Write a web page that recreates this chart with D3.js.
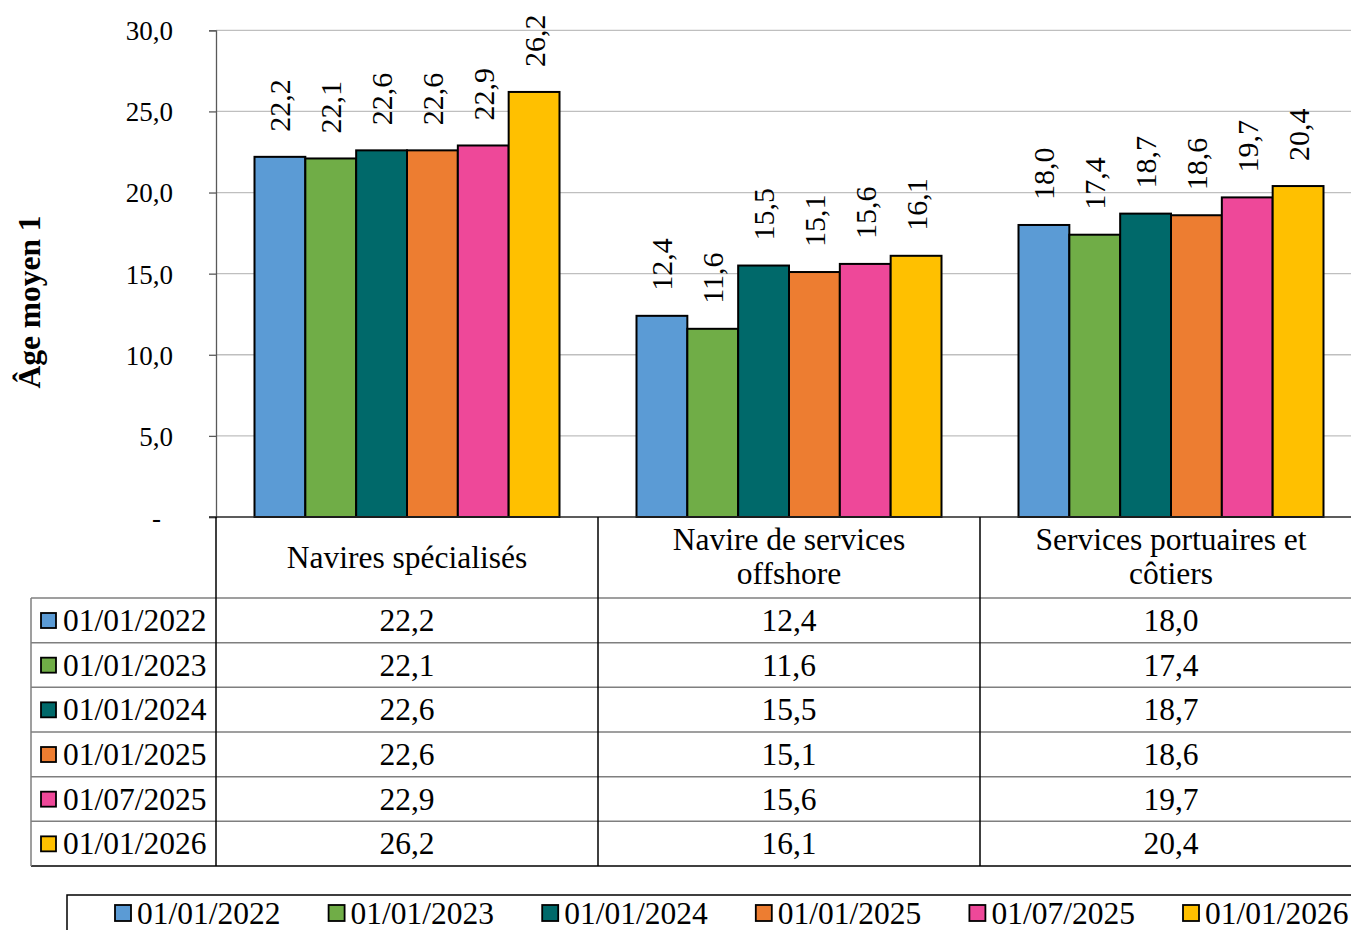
<!DOCTYPE html>
<html>
<head>
<meta charset="utf-8">
<script src="https://cdn.jsdelivr.net/npm/d3@7"></script>
<style>
  body { margin: 0; background: #fff; }
  svg { display: block; font-family: "Liberation Serif", "Times New Roman", serif; }
</style>
</head>
<body>
<svg id="graph1" width="1351" height="930"></svg>
<script>
// data
var categories = ["Navires spécialisés", "Navire de services offshore", "Services portuaires et côtiers"];
var categoryLines = [["Navires spécialisés"], ["Navire de services", "offshore"], ["Services portuaires et", "côtiers"]];
var series = ["01/01/2022", "01/01/2023", "01/01/2024", "01/01/2025", "01/07/2025", "01/01/2026"];
var v2022 = [22.2, 12.4, 18.0];
var v2023 = [22.1, 11.6, 17.4];
var v2024 = [22.6, 15.5, 18.7];
var v2025 = [22.6, 15.1, 18.6];
var v2025b = [22.9, 15.6, 19.7];
var v2026 = [26.2, 16.1, 20.4];
var yTicks = [0, 5, 10, 15, 20, 25, 30];
var colorList = ["#5B9BD5", "#70AD47", "#00696A", "#ED7D31", "#EE4899", "#FFC000"];

var values = [v2022, v2023, v2024, v2025, v2025b, v2026];
var fmt = function(v) { return v.toFixed(1).replace(".", ","); };

var svg = d3.select("#graph1");
var plot = {left: 216, right: 1362, top: 30.3, bottom: 517};

var x0 = d3.scaleBand().domain(categories).range([plot.left, plot.right]);
var bw = x0.bandwidth();
var x1 = d3.scaleBand().domain(series).range([38.5, bw - 38.5]);
var y = d3.scaleLinear().domain([0, 30]).range([plot.bottom, plot.top]);
var color = d3.scaleOrdinal().domain(series).range(colorList);

// gridlines
svg.append("g")
  .selectAll("line")
  .data(yTicks.filter(function(d) { return d > 0; }))
  .enter().append("line")
    .attr("x1", plot.left).attr("x2", plot.right)
    .attr("y1", function(d) { return y(d); })
    .attr("y2", function(d) { return y(d); })
    .attr("stroke", "#BFBFBF")
    .attr("stroke-width", 1.3);

// y axis
var yAxis = svg.append("g")
  .attr("transform", "translate(" + plot.left + ",0)")
  .call(d3.axisLeft(y).tickValues(yTicks).tickSize(7).tickPadding(36)
    .tickFormat(function(d) { return d === 0 ? "-" : fmt(d); }));
yAxis.select(".domain").attr("stroke", "#595959").attr("stroke-width", 1.3);
yAxis.selectAll(".tick line").attr("stroke", "#595959").attr("stroke-width", 1.3);
yAxis.selectAll(".tick text")
  .attr("fill", "#000")
  .style("font-size", "27px")
  .style("font-family", "Liberation Serif")
  .attr("dy", "0.35em");
yAxis.selectAll(".tick").filter(function(d) { return d === 0; }).select("text").attr("dx", -12);

// y title
svg.append("text")
  .attr("transform", "translate(40," + 302 + ") rotate(-90)")
  .attr("text-anchor", "middle")
  .style("font-size", "31.5px")
  .style("font-weight", "bold")
  .text("Âge moyen 1");

// bars
var groups = svg.append("g")
  .selectAll("g")
  .data(series)
  .enter().append("g");

groups.selectAll("rect")
  .data(function(s, i) { return categories.map(function(c, j) { return {s: s, c: c, v: values[i][j]}; }); })
  .enter().append("rect")
    .attr("x", function(d) { return x0(d.c) + x1(d.s); })
    .attr("y", function(d) { return y(d.v); })
    .attr("width", x1.bandwidth())
    .attr("height", function(d) { return y(0) - y(d.v); })
    .attr("fill", function(d) { return color(d.s); })
    .attr("stroke", "#000")
    .attr("stroke-width", 2);

// data labels
groups.selectAll("text")
  .data(function(s, i) { return categories.map(function(c, j) { return {s: s, c: c, v: values[i][j]}; }); })
  .enter().append("text")
    .attr("transform", function(d) {
      return "translate(" + (x0(d.c) + x1(d.s) + x1.bandwidth() / 2) + "," + (y(d.v) - 25) + ") rotate(-90)";
    })
    .attr("dy", "0.35em")
    .style("font-size", "30px")
    .text(function(d) { return fmt(d.v); });

// zero line
svg.append("line")
  .attr("x1", plot.left - 7).attr("x2", plot.right)
  .attr("y1", y(0)).attr("y2", y(0))
  .attr("stroke", "#262626").attr("stroke-width", 1.5);

///////////////////////////////////////////////////////////////////////////////
// data table

var tableLeft = 31, headerBottom = 598, rowH = 44.67;
var table = svg.append("g");
var tableBottom = headerBottom + rowH * series.length;

// horizontal row lines
table.selectAll(".hline")
  .data(d3.range(series.length + 1))
  .enter().append("line")
    .attr("x1", tableLeft).attr("x2", plot.right)
    .attr("y1", function(i) { return headerBottom + i * rowH; })
    .attr("y2", function(i) { return headerBottom + i * rowH; })
    .attr("stroke", function(i) { return i === series.length ? "#000" : "#7F7F7F"; })
    .attr("stroke-width", 1.5);

table.append("line")
  .attr("x1", tableLeft).attr("x2", tableLeft)
  .attr("y1", headerBottom).attr("y2", tableBottom)
  .attr("stroke", "#7F7F7F").attr("stroke-width", 1.5);

// vertical column lines
table.selectAll(".vline")
  .data(categories)
  .enter().append("line")
    .attr("x1", function(c) { return x0(c); })
    .attr("x2", function(c) { return x0(c); })
    .attr("y1", plot.bottom).attr("y2", tableBottom)
    .attr("stroke", "#000").attr("stroke-width", 1.5);

// header labels
categoryLines.forEach(function(lines, j) {
  var cx = x0(categories[j]) + bw / 2;
  var t = table.append("text")
    .attr("text-anchor", "middle")
    .style("font-size", "31.5px");
  var base = lines.length === 1 ? 568 : 550;
  lines.forEach(function(l, k) {
    t.append("tspan").attr("x", cx).attr("y", base + k * 34).text(l);
  });
});

// row headers with keys
series.forEach(function(s, i) {
  var top = headerBottom + i * rowH;
  table.append("rect")
    .attr("x", 41).attr("y", top + 15)
    .attr("width", 15).attr("height", 15)
    .attr("fill", color(s)).attr("stroke", "#000").attr("stroke-width", 1.8);
  table.append("text")
    .attr("x", 63).attr("y", top + 33)
    .style("font-size", "31.5px")
    .text(s);
  categories.forEach(function(c, j) {
    table.append("text")
      .attr("x", x0(c) + bw / 2).attr("y", top + 33)
      .attr("text-anchor", "middle")
      .style("font-size", "31.5px")
      .text(fmt(values[i][j]));
  });
});

///////////////////////////////////////////////////////////////////////////////
// legend

var legend = svg.append("g");
legend.append("path")
  .attr("d", "M67,930V895H1400")
  .attr("fill", "none")
  .attr("stroke", "#000").attr("stroke-width", 1.5);

var lx = d3.scaleBand().domain(series).range([115, 115 + 213.6 * series.length]);
series.forEach(function(s) {
  legend.append("rect")
    .attr("x", lx(s)).attr("y", 905)
    .attr("width", 16).attr("height", 16)
    .attr("fill", color(s)).attr("stroke", "#000").attr("stroke-width", 1.8);
  legend.append("text")
    .attr("x", lx(s) + 22).attr("y", 924)
    .style("font-size", "31.5px")
    .text(s);
});
</script>
</body>
</html>
